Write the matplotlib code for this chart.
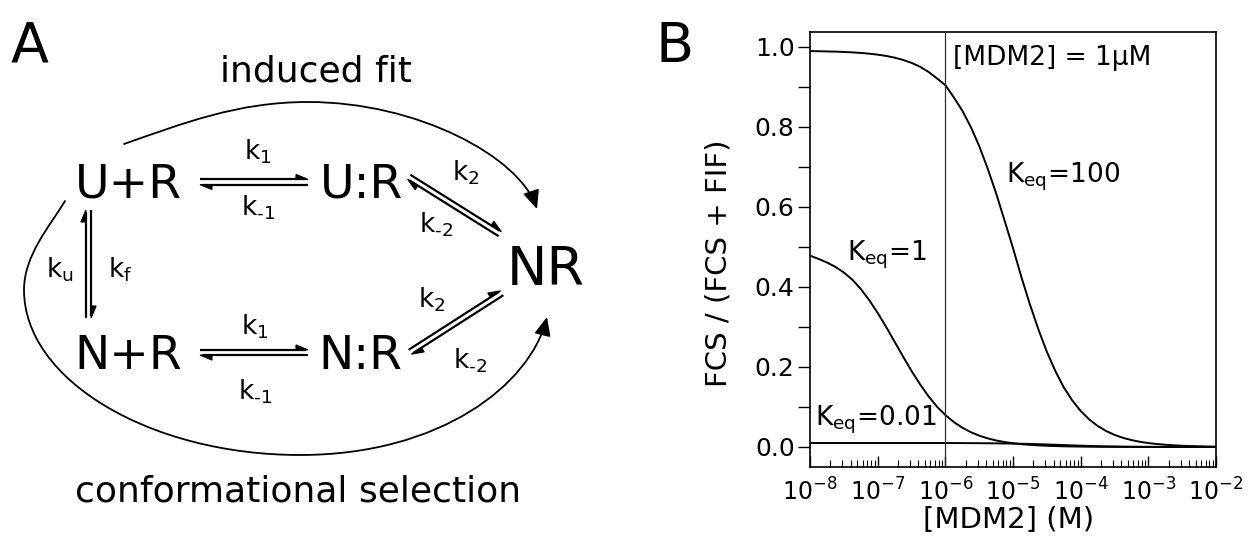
import numpy as np
import matplotlib
matplotlib.use("Agg")
import matplotlib.pyplot as plt
from matplotlib.patches import Polygon, FancyArrowPatch
from matplotlib.path import Path
from matplotlib.ticker import MultipleLocator, LogLocator

plt.rcParams['mathtext.default'] = 'regular'

# ---- panel B data, x as log10 of [MDM2] ----
mdm2_exp = [-8.0, -7.875, -7.75, -7.625, -7.5, -7.375, -7.25, -7.125,
            -7.0, -6.875, -6.75, -6.625, -6.5, -6.375, -6.25, -6.125,
            -6.0, -5.875, -5.75, -5.625, -5.5, -5.375, -5.25, -5.125,
            -5.0, -4.875, -4.75, -4.625, -4.5, -4.375, -4.25, -4.125,
            -4.0, -3.875, -3.75, -3.625, -3.5, -3.375, -3.25, -3.125,
            -3.0, -2.875, -2.75, -2.625, -2.5, -2.375, -2.25, -2.125, -2.0]
frac_keq100 = [0.989, 0.9887, 0.9882, 0.9877, 0.9869, 0.9858, 0.9845, 0.9826,
               0.9802, 0.977, 0.9727, 0.967, 0.9597, 0.950, 0.9373, 0.921,
               0.904, 0.8735, 0.8405, 0.800, 0.752, 0.696, 0.634, 0.566,
               0.497, 0.424, 0.356, 0.294, 0.238, 0.190, 0.149, 0.1165,
               0.090, 0.069, 0.0527, 0.040, 0.0303, 0.0229, 0.0173, 0.013,
               0.0098, 0.0074, 0.0056, 0.0042, 0.0031, 0.0023, 0.0018, 0.0013, 0.001]
frac_keq1 = [0.478, 0.470, 0.461, 0.450, 0.436, 0.418, 0.395, 0.367,
             0.335, 0.300, 0.263, 0.226, 0.190, 0.157, 0.127, 0.101,
             0.080, 0.0623, 0.0483, 0.0371, 0.0283, 0.0216, 0.0163, 0.0124,
             0.0093, 0.007, 0.0053, 0.004, 0.003, 0.0023, 0.0017, 0.0013,
             0.001, 0.0007, 0.0005, 0.0004, 0.0003, 0.0002, 0.0002, 0.0001,
             0.0001, 0.0, 0.0, 0.0, 0.0, 0.0, 0.0, 0.0, 0.0]
frac_keq001 = [0.0099, 0.0099, 0.0099, 0.0099, 0.0099, 0.0099, 0.0099, 0.0099,
               0.0099, 0.0099, 0.0099, 0.0099, 0.0099, 0.0099, 0.0099, 0.0099,
               0.0099, 0.0098, 0.0097, 0.0096, 0.0095, 0.0093, 0.0091, 0.0088,
               0.0085, 0.0081, 0.0076, 0.007, 0.0063, 0.0056, 0.0048, 0.004,
               0.0033, 0.0027, 0.0021, 0.0016, 0.0012, 0.0009, 0.0007, 0.0005,
               0.0004, 0.0003, 0.0002, 0.0002, 0.0001, 0.0001, 0.0001, 0.0, 0.0]
keq_labels = ['K$_{eq}$=100', 'K$_{eq}$=1', 'K$_{eq}$=0.01']
mdm2_ref = 1e-6

# ---- panel A scheme (pixel layout, y down) ----
species = ['U+R', 'U:R', 'N+R', 'N:R']
species_xy = [(128.5, 197), (361.5, 197), (128.5, 369), (360.5, 369)]
rate_labels = ['k$_1$', 'k$_{\\text{-}1}$', 'k$_1$', 'k$_{\\text{-}1}$', 'k$_u$', 'k$_f$',
               'k$_2$', 'k$_{\\text{-}2}$', 'k$_2$', 'k$_{\\text{-}2}$']
rate_xy = [(258, 152), (258, 208), (255, 327), (255, 392), (60, 270), (120, 270),
           (466, 173), (436, 225), (432, 300), (470, 361)]
equilibria = [((200, 182), (308, 182)), ((200, 352.5), (308, 352.5)),
              ((88.5, 318), (88.5, 210)), ((409, 177), (500, 234)),
              ((410, 352), (502, 293))]

fig = plt.figure(figsize=(12.52, 5.37), dpi=100)

axA = fig.add_axes([0, 0, 640 / 1252, 1])
axA.set_xlim(0, 640)
axA.set_ylim(537, 0)
axA.axis('off')


def harpoon(ax, p0, p1, lw=1.6, head=12, width=5):
    p0 = np.array(p0, float)
    p1 = np.array(p1, float)
    u = (p1 - p0) / np.linalg.norm(p1 - p0)
    n = np.array([u[1], -u[0]])
    ax.plot([p0[0], p1[0] - 2 * u[0]], [p0[1], p1[1] - 2 * u[1]], color='k', lw=lw,
            solid_capstyle='butt')
    tri = [p1, p1 - head * u + width * n, p1 - head * u]
    ax.add_patch(Polygon(tri, closed=True, facecolor='k', edgecolor='k', lw=0.8))


def eq_pair(ax, a, b, off=2.6):
    a = np.array(a, float)
    b = np.array(b, float)
    u = (b - a) / np.linalg.norm(b - a)
    n = np.array([u[1], -u[0]])
    harpoon(ax, a + off * n, b + off * n)
    harpoon(ax, b - off * n, a - off * n)


for a, b in equilibria:
    eq_pair(axA, a, b)

for name, (x, y) in zip(species, species_xy):
    axA.text(x, y, name, fontsize=34, ha='center', va='baseline')
axA.text(545.5, 285, 'NR', fontsize=39, ha='center', va='baseline')

for lab, (x, y) in zip(rate_labels, rate_xy):
    axA.text(x, y, lab, fontsize=19, ha='center', va='center')

axA.text(316, 81, 'induced fit', fontsize=26, ha='center', va='baseline')
axA.text(298, 502, 'conformational selection', fontsize=26, ha='center', va='baseline')

# induced fit arc
top_arc = Path([(124, 144), (184, 123), (238, 102), (308, 102),
                (418, 102), (519.5, 157), (537, 209)],
               [Path.MOVETO, Path.CURVE4, Path.CURVE4, Path.CURVE4,
                Path.CURVE4, Path.CURVE4, Path.CURVE4])
axA.add_patch(FancyArrowPatch(path=top_arc, arrowstyle='-|>,head_length=0.45,head_width=0.2',
                              mutation_scale=25, lw=1.3, color='k'))
# conformational selection arc
big_arc = Path([(65, 201), (50, 226), (24, 255), (24, 290),
                (24, 380), (150, 455), (300, 455),
                (440, 455), (530, 385), (547, 317)],
               [Path.MOVETO, Path.CURVE4, Path.CURVE4, Path.CURVE4,
                Path.CURVE4, Path.CURVE4, Path.CURVE4,
                Path.CURVE4, Path.CURVE4, Path.CURVE4])
axA.add_patch(FancyArrowPatch(path=big_arc, arrowstyle='-|>,head_length=0.45,head_width=0.2',
                              mutation_scale=25, lw=1.3, color='k'))

# ---- panel B ----
ax = fig.add_axes([810 / 1252, 70 / 537, 406 / 1252, 435.3 / 537])
conc = 10.0 ** np.array(mdm2_exp)
for frac in (frac_keq100, frac_keq1, frac_keq001):
    ax.plot(conc, frac, color='k', lw=1.4)
ax.axvline(mdm2_ref, color='#333333', lw=0.9)

ax.set_xscale('log')
ax.set_xlim(1e-8, 1e-2)
ax.set_ylim(-0.05, 1.0375)
ax.set_yticks([0.0, 0.2, 0.4, 0.6, 0.8, 1.0])
ax.yaxis.set_minor_locator(MultipleLocator(0.1))
ax.xaxis.set_major_locator(LogLocator(base=10, numticks=10))
ax.xaxis.set_minor_locator(LogLocator(base=10, subs=np.arange(2, 10), numticks=20))
ax.tick_params(axis='x', which='both', direction='in', top=False, labelsize=17, pad=8)
ax.tick_params(axis='x', which='major', length=8, width=1)
ax.tick_params(axis='x', which='minor', length=5, width=0.8)
ax.tick_params(axis='y', which='both', direction='out', length=9, width=1,
               labelsize=18, pad=2, right=False)
for s in ax.spines.values():
    s.set_linewidth(1.2)

ax.text(10 ** -5.886, 0.955, '[MDM2] = 1μM', fontsize=19, ha='left', va='baseline')
ax.text(10 ** -5.10, 0.662, keq_labels[0], fontsize=19, ha='left', va='baseline')
ax.text(10 ** -7.456, 0.467, keq_labels[1], fontsize=19, ha='left', va='baseline')
ax.text(10 ** -7.926, 0.054, keq_labels[2], fontsize=19, ha='left', va='baseline')

ax.set_xlabel('[MDM2] (M)', fontsize=21)
ax.xaxis.set_label_coords(0.49, -0.09)
ax.set_ylabel('FCS / (FCS + FIF)', fontsize=21)
ax.yaxis.set_label_coords(-0.192, 0.469)

fig.text(11 / 1252, 1 - 61 / 537, 'A', fontsize=40, ha='left', va='baseline')
fig.text(655 / 1252, 1 - 61.6 / 537, 'B', fontsize=40, ha='left', va='baseline')

fig.savefig('out.png', dpi=100)
